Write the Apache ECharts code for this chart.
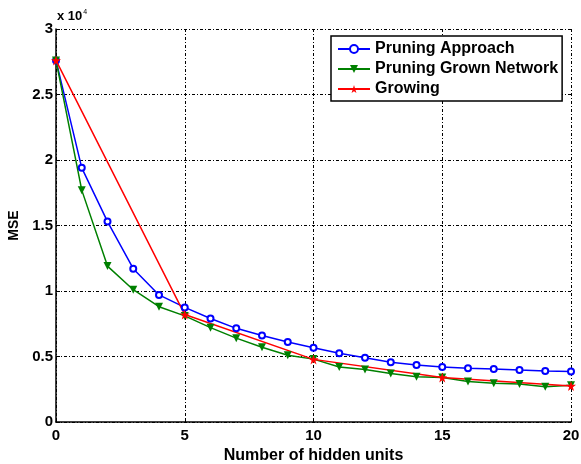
<!DOCTYPE html>
<html>
<head>
<meta charset="utf-8">
<script src="https://cdn.jsdelivr.net/npm/echarts@6/dist/echarts.min.js"></script>
<style>
  html, body { margin: 0; padding: 0; background: #fff; }
  #chart { width: 581px; height: 464px; }
</style>
</head>
<body>
<div id="chart"></div>
<script>
// hidden units on the x axis
var units = [0,1,2,3,4,5,6,7,8,9,10,11,12,13,14,15,16,17,18,19,20];
var pruningApproach = [27600,19400,15300,11700,9700,8750,7900,7150,6600,6100,5670,5240,4900,4560,4350,4200,4100,4050,3970,3900,3850];
var pruningGrown = [27600,17700,11900,10100,8800,8100,7200,6400,5700,5100,4800,4200,4000,3700,3450,3400,3100,2950,2900,2700,2800];
var growingUnits = [0,5,10,15,20];
var growing = [27600,8200,4780,3400,2750];
var yTicks = [0,5000,10000,15000,20000,25000,30000];

var starPath = 'path://M50,0 L61,35 L98,35 L68,57 L79,91 L50,70 L21,91 L32,57 L2,35 L39,35 Z';
var font = 'Liberation Sans, Arial, sans-serif';

function pairs(xs, ys) {
    return xs.map(function (x, i) { return [x, ys[i]]; });
}

var chart = echarts.init(document.getElementById('chart'));
var option = {
    animation: false,
    textStyle: { fontFamily: font },
    grid: { left: 56, right: 10, top: 29, bottom: 42, containLabel: false, outerBoundsMode: 'none' },
    xAxis: {
        type: 'value', min: 0, max: 20, interval: 5,
        name: 'Number of hidden units', nameLocation: 'middle', nameGap: 17,
        nameTextStyle: { color: '#000', fontWeight: 'bold', fontSize: 16, fontFamily: font },
        axisLine: { lineStyle: { color: '#000', width: 1.5 } },
        axisTick: { inside: true, length: 4, lineStyle: { color: '#000' } },
        axisLabel: { color: '#000', fontWeight: 'bold', fontSize: 15, margin: 6, fontFamily: font },
        splitLine: { show: true, lineStyle: { color: '#000', type: [3, 2, 1, 2], width: 1 } }
    },
    yAxis: {
        type: 'value', min: 0, max: 30000, interval: 5000,
        name: 'MSE', nameLocation: 'middle', nameGap: 32, nameRotate: 90,
        nameTextStyle: { color: '#000', fontWeight: 'bold', fontSize: 14, fontFamily: font },
        axisLine: { show: true, lineStyle: { color: '#000', width: 1.5 } },
        axisTick: { inside: true, length: 4, lineStyle: { color: '#000' } },
        axisLabel: {
            color: '#000', fontWeight: 'bold', fontSize: 15, margin: 3, fontFamily: font,
            formatter: function (v) { return yTicks.indexOf(v) >= 0 ? String(v / 10000) : ''; }
        },
        splitLine: { show: true, lineStyle: { color: '#000', type: [3, 2, 1, 2], width: 1 } }
    },
    legend: {
        orient: 'vertical', left: 331, top: 36,
        padding: [5, 4, 4, 6], itemGap: 4, itemWidth: 32, itemHeight: 10,
        borderColor: '#000', borderWidth: 1.5, backgroundColor: '#fff',
        textStyle: { color: '#000', fontWeight: 'bold', fontSize: 16, fontFamily: font },
        data: ['Pruning Approach', 'Pruning Grown Network', 'Growing']
    },
    graphic: [{
        type: 'text', left: 57, top: 9,
        style: {
            text: '{a|x 10}{s|4}',
            rich: {
                a: { fontSize: 13, fontWeight: 'bold', fill: '#000', fontFamily: font },
                s: { fontSize: 7, fill: '#000', verticalAlign: 'top', padding: [0, 0, 8, 1], fontFamily: font }
            }
        }
    }],
    series: [
        {
            name: 'Pruning Approach', type: 'line', data: pairs(units, pruningApproach),
            symbol: 'emptyCircle', symbolSize: 6,
            lineStyle: { color: '#0000ff', width: 1.5 },
            itemStyle: { color: '#0000ff', borderWidth: 2 }
        },
        {
            name: 'Pruning Grown Network', type: 'line', data: pairs(units, pruningGrown),
            symbol: 'triangle', symbolRotate: 180, symbolSize: 8,
            lineStyle: { color: '#008000', width: 1.5 },
            itemStyle: { color: '#008000' }
        },
        {
            name: 'Growing', type: 'line', data: pairs(growingUnits, growing),
            symbol: starPath, symbolSize: 10,
            lineStyle: { color: '#ff0000', width: 1.5 },
            itemStyle: { color: '#ff0000' }
        }
    ]
};
chart.setOption(option);
</script>
</body>
</html>
